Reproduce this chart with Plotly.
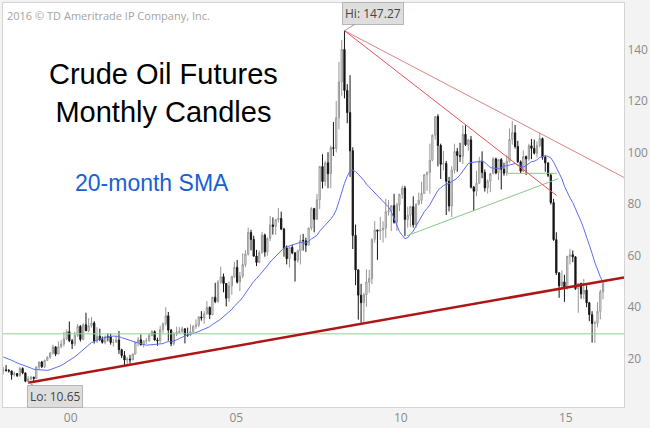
import plotly.graph_objects as go
import pandas as pd

# ---- Monthly crude oil futures OHLC, Mar 1998 .. May 2016 ----
start_month = "1998-03-01"

opens = [
    15.44, 15.61, 15.39, 15.20, 13.72, 14.17, 13.36, 16.14, 14.42, 11.22,
    12.05, 12.75, 12.27, 16.76, 18.66, 16.84, 19.29, 20.53, 22.10, 24.51, 21.75, 24.59,
    25.60, 27.64, 30.43, 26.90, 25.74, 29.01, 32.50, 27.43, 33.12, 30.84, 32.70, 33.82,
    26.80, 28.66, 27.39, 26.29, 28.46, 28.37, 26.25, 26.35, 27.20, 23.43, 21.18, 19.44,
    19.84, 19.48, 21.74, 26.31, 27.29, 25.31, 26.86, 27.02, 28.98, 30.45, 27.22, 26.89,
    31.20, 33.51, 36.60, 31.04, 25.80, 29.56, 30.19, 30.54, 31.57, 29.20, 29.11, 30.41,
    32.52, 33.05, 36.16, 35.76, 37.38, 39.88, 37.05, 43.80, 42.12, 49.64, 51.76, 49.13,
    43.45, 48.20, 51.75, 55.40, 49.72, 51.97, 56.50, 60.57, 68.94, 66.24, 59.76, 57.32,
    61.04, 67.92, 61.41, 66.63, 71.88, 71.29, 73.93, 74.40, 70.26, 62.91, 58.73, 63.13,
    61.05, 58.14, 61.79, 65.87, 65.71, 64.01, 70.68, 78.21, 74.04, 81.66, 94.53, 88.71,
    95.98, 91.75, 101.84, 101.58, 113.46, 127.35, 140.00, 124.08, 115.46, 100.64, 67.81, 54.43,
    44.60, 41.68, 44.76, 49.66, 51.12, 66.31, 69.89, 69.45, 69.96, 70.61, 77.00, 77.28,
    79.36, 72.89, 79.66, 83.76, 86.15, 73.97, 75.63, 78.95, 71.92, 79.97, 81.43, 84.11,
    91.38, 92.19, 96.97, 106.72, 113.93, 102.70, 95.42, 95.70, 88.81, 79.20, 93.19, 100.36,
    98.83, 98.48, 107.07, 103.02, 104.87, 86.53, 84.96, 88.06, 96.47, 92.19, 86.24, 88.91,
    91.82, 97.49, 92.05, 97.23, 93.46, 91.97, 96.56, 105.03, 107.65, 102.33, 96.38, 92.72,
    98.42, 97.49, 102.59, 101.58, 99.74, 102.71, 105.37, 98.17, 95.96, 91.16, 80.54, 66.15,
    53.27, 48.24, 49.76, 47.60, 59.63, 60.30, 59.47, 47.12, 49.20, 45.09, 46.59, 41.65,
    37.04, 33.62, 33.75, 38.34, 45.92,
]
highs = [
    16.80, 17.45, 15.95, 15.30, 14.92, 14.35, 16.75, 16.60, 14.55, 13.20,
    13.30, 13.00, 16.95, 18.80, 19.10, 19.60, 20.85, 22.60, 25.40, 24.85, 26.70, 27.15,
    30.25, 31.35, 34.37, 27.60, 30.40, 33.40, 33.00, 33.60, 37.80, 35.70, 36.20, 34.50,
    32.20, 31.60, 28.60, 29.00, 29.80, 29.60, 27.60, 28.90, 30.70, 23.80, 22.90, 20.50,
    21.40, 21.95, 26.40, 28.40, 29.30, 26.90, 27.95, 29.90, 31.00, 30.95, 28.10, 32.70,
    34.00, 39.99, 38.10, 31.50, 30.30, 32.40, 32.20, 32.40, 31.60, 32.00, 33.30, 33.00,
    35.20, 36.40, 38.40, 38.40, 42.30, 40.20, 43.90, 49.40, 50.50, 55.67, 53.00, 49.20,
    49.90, 52.10, 57.60, 58.28, 53.60, 60.90, 62.10, 70.85, 70.00, 67.70, 62.20, 61.90,
    69.20, 68.50, 67.00, 75.35, 74.80, 74.10, 78.40, 77.05, 70.70, 63.90, 63.40, 64.20,
    61.20, 62.30, 68.10, 68.40, 66.90, 70.70, 78.77, 78.50, 83.90, 94.74, 99.29, 96.80,
    100.09, 102.60, 111.80, 119.93, 135.09, 143.67, 147.27, 126.50, 130.00, 102.00, 72.00, 54.50,
    49.00, 45.50, 54.66, 54.45, 66.65, 73.38, 70.00, 75.00, 73.30, 82.00, 81.50, 79.50,
    83.95, 80.50, 83.50, 87.15, 87.00, 79.00, 79.30, 82.95, 80.10, 84.40, 88.60, 91.50,
    92.60, 103.41, 106.95, 113.98, 114.83, 103.40, 100.60, 96.70, 90.50, 94.65, 103.37, 101.77,
    103.74, 110.55, 110.50, 105.30, 106.40, 87.00, 92.94, 98.29, 100.42, 93.40, 89.60, 91.00,
    98.24, 98.00, 97.30, 97.80, 96.00, 99.10, 109.30, 112.24, 110.70, 104.50, 96.90, 100.80,
    98.80, 103.40, 105.20, 104.99, 104.30, 107.68, 105.80, 98.70, 96.00, 92.00, 82.00, 69.00,
    53.50, 54.24, 52.50, 59.90, 62.58, 61.94, 59.70, 49.30, 49.40, 50.92, 48.36, 42.00,
    38.39, 34.69, 41.90, 46.78, 49.90,
]
lows = [
    13.90, 14.90, 14.55, 11.80, 13.02, 12.85, 12.90, 13.90, 10.82, 10.65,
    11.55, 11.25, 11.95, 15.65, 16.35, 16.30, 19.10, 19.90, 21.50, 20.90, 21.65, 24.05,
    24.70, 27.20, 26.40, 23.70, 24.90, 28.30, 26.60, 27.10, 30.60, 30.20, 32.00, 25.80,
    26.00, 26.80, 25.80, 25.50, 26.70, 25.40, 24.60, 26.10, 21.80, 20.20, 17.45, 17.50,
    17.97, 19.40, 21.60, 24.70, 25.10, 24.30, 25.70, 26.40, 28.60, 26.95, 24.95, 26.10,
    30.00, 32.70, 26.90, 24.80, 25.08, 28.70, 29.60, 29.90, 25.90, 28.40, 28.70, 29.60,
    31.50, 32.20, 34.70, 33.50, 37.00, 35.30, 36.80, 41.50, 41.60, 49.10, 45.70, 40.25,
    41.90, 44.80, 51.30, 49.10, 46.20, 51.10, 55.50, 60.00, 62.00, 59.50, 55.88, 57.00,
    60.80, 59.52, 59.90, 65.60, 68.10, 68.00, 72.80, 69.90, 59.52, 56.55, 55.35, 60.50,
    49.90, 57.20, 56.50, 61.90, 61.40, 64.00, 69.80, 69.00, 73.90, 78.00, 86.00, 87.00,
    86.11, 86.10, 98.65, 100.00, 109.00, 122.00, 121.00, 111.34, 90.51, 62.50, 48.50, 35.10,
    33.90, 34.20, 40.05, 45.50, 48.90, 65.00, 58.32, 66.00, 65.05, 66.80, 75.50, 69.50,
    72.40, 69.50, 77.20, 82.00, 67.50, 70.80, 71.00, 70.80, 70.76, 79.50, 80.00, 84.00,
    85.10, 84.00, 96.50, 105.00, 94.60, 89.70, 93.00, 75.71, 77.10, 74.95, 91.80, 92.50,
    96.30, 95.50, 102.50, 100.70, 86.00, 77.28, 83.00, 87.80, 90.00, 84.80, 84.05, 84.60,
    91.70, 91.50, 89.33, 85.60, 91.00, 91.00, 96.00, 103.00, 101.50, 95.90, 92.00, 92.50,
    91.24, 96.70, 97.40, 99.20, 98.00, 101.90, 97.20, 92.50, 90.43, 79.78, 65.69, 52.44,
    43.58, 47.36, 42.03, 46.70, 56.51, 57.40, 46.68, 37.75, 43.21, 43.04, 39.93, 34.53,
    26.19, 26.05, 32.10, 35.24, 43.03,
]
closes = [
    15.61, 15.39, 15.20, 13.72, 14.17, 13.36, 16.14, 14.42, 11.22, 12.05,
    12.75, 12.27, 16.76, 18.66, 16.84, 19.29, 20.53, 22.10, 24.51, 21.75, 24.59, 25.60,
    27.64, 30.43, 26.90, 25.74, 29.01, 32.50, 27.43, 33.12, 30.84, 32.70, 33.82, 26.80,
    28.66, 27.39, 26.29, 28.46, 28.37, 26.25, 26.35, 27.20, 23.43, 21.18, 19.44, 19.84,
    19.48, 21.74, 26.31, 27.29, 25.31, 26.86, 27.02, 28.98, 30.45, 27.22, 26.89, 31.20,
    33.51, 36.60, 31.04, 25.80, 29.56, 30.19, 30.54, 31.57, 29.20, 29.11, 30.41, 32.52,
    33.05, 36.16, 35.76, 37.38, 39.88, 37.05, 43.80, 42.12, 49.64, 51.76, 49.13, 43.45,
    48.20, 51.75, 55.40, 49.72, 51.97, 56.50, 60.57, 68.94, 66.24, 59.76, 57.32, 61.04,
    67.92, 61.41, 66.63, 71.88, 71.29, 73.93, 74.40, 70.26, 62.91, 58.73, 63.13, 61.05,
    58.14, 61.79, 65.87, 65.71, 64.01, 70.68, 78.21, 74.04, 81.66, 94.53, 88.71, 95.98,
    91.75, 101.84, 101.58, 113.46, 127.35, 140.00, 124.08, 115.46, 100.64, 67.81, 54.43, 44.60,
    41.68, 44.76, 49.66, 51.12, 66.31, 69.89, 69.45, 69.96, 70.61, 77.00, 77.28, 79.36,
    72.89, 79.66, 83.76, 86.15, 73.97, 75.63, 78.95, 71.92, 79.97, 81.43, 84.11, 91.38,
    92.19, 96.97, 106.72, 113.93, 102.70, 95.42, 95.70, 88.81, 79.20, 93.19, 100.36, 98.83,
    98.48, 107.07, 103.02, 104.87, 86.53, 84.96, 88.06, 96.47, 92.19, 86.24, 88.91, 91.82,
    97.49, 92.05, 97.23, 93.46, 91.97, 96.56, 105.03, 107.65, 102.33, 96.38, 92.72, 98.42,
    97.49, 102.59, 101.58, 99.74, 102.71, 105.37, 98.17, 95.96, 91.16, 80.54, 66.15, 53.27,
    48.24, 49.76, 47.60, 59.63, 60.30, 59.47, 47.12, 49.20, 45.09, 46.59, 41.65, 37.04,
    33.62, 33.75, 38.34, 45.92, 49.10,
]
# closes Jun 1996 .. Feb 1998, only used to warm up the 20-month SMA
warmup_closes = [
    20.92, 20.42, 22.25, 24.38, 23.35, 23.75, 25.92,
    24.15, 20.30, 20.41, 20.21, 20.88, 19.80, 20.14, 19.61, 21.18, 21.08, 19.15, 17.64,
    17.21, 15.44,
]
sma_window = 20

# ---- annotation levels / trend lines ----
hi_date, hi_value = "2008-07-01", 147.27
lo_date, lo_value = "1998-12-01", 10.65
support_x = ["1998-12-01", "2016-12-19"]
support_y = [10.65, 51.5]
resist_upper_x = ["2008-07-01", "2016-12-19"]
resist_upper_y = [147.27, 90.3]
resist_lower_x = ["2008-07-01", "2014-12-04"]
resist_lower_y = [147.27, 83.3]
green_flat_x = ["1998-02-26", "2016-12-19"]
green_flat_y = [29.6, 29.6]
green_rise_x = ["2010-05-25", "2014-12-22"]
green_rise_y = [67.7, 89.8]
green_short_x = ["2013-06-13", "2014-12-07"]
green_short_y = [91.9, 91.9]

x_range = ["1998-02-26", "2016-12-19"]
y_range = [1.2, 158]
x_tickvals = ["2000-03-16", "2005-03-22", "2010-03-17", "2015-03-16"]
x_ticktext = ["00", "05", "10", "15"]
y_tickvals = [20, 40, 60, 80, 100, 120, 140]

dates = pd.date_range(start_month, periods=len(closes), freq="MS")
all_closes = pd.Series(warmup_closes + closes)
sma = all_closes.rolling(sma_window).mean().iloc[len(warmup_closes):].tolist()

fig = go.Figure()
fig.add_trace(go.Candlestick(
    x=dates, open=opens, high=highs, low=lows, close=closes,
    increasing=dict(line=dict(color="#969696", width=1), fillcolor="#ffffff"),
    decreasing=dict(line=dict(color="#151515", width=1), fillcolor="#151515"),
    whiskerwidth=0, showlegend=False, hoverinfo="skip",
))
fig.add_trace(go.Scatter(x=dates, y=sma, mode="lines",
                         line=dict(color="#5b6cf2", width=1), hoverinfo="skip"))

def add_line(xs, ys, color, width):
    fig.add_trace(go.Scatter(x=xs, y=ys, mode="lines",
                             line=dict(color=color, width=width), hoverinfo="skip"))

add_line(green_flat_x, green_flat_y, "#92cf92", 1)
add_line(green_rise_x, green_rise_y, "#86c886", 1)
add_line(green_short_x, green_short_y, "#86c886", 1)
add_line(resist_upper_x, resist_upper_y, "#d98585", 1)
add_line(resist_lower_x, resist_lower_y, "#e8505c", 1)
add_line(support_x, support_y, "#b01515", 2.5)

label_font = dict(family="Open Sans", size=12, color="#444444")
fig.add_annotation(x=hi_date, y=hi_value, text=f"Hi: {hi_value:.2f}",
                   showarrow=True, arrowhead=0, arrowwidth=1, arrowcolor="#9c9c9c",
                   ax=28.5, ay=-17.4, bgcolor="#dedede", bordercolor="#b5b5b5",
                   borderwidth=1, borderpad=2, font=label_font)
fig.add_annotation(x=lo_date, y=lo_value, text=f"Lo: {lo_value:.2f}",
                   showarrow=True, arrowhead=0, arrowwidth=1, arrowcolor="#9c9c9c",
                   ax=27, ay=13.5, bgcolor="#dedede", bordercolor="#b5b5b5",
                   borderwidth=1, borderpad=2, font=label_font)

fig.add_annotation(xref="paper", yref="paper", x=0.003, y=0.968, xanchor="left",
                   yanchor="middle", showarrow=False,
                   text="2016 © TD Ameritrade IP Company, Inc.",
                   font=dict(family="Open Sans", size=11, color="#a3a3a3"))
fig.add_annotation(xref="paper", yref="paper", x=0.2577, y=0.777, xanchor="center",
                   yanchor="middle", showarrow=False, align="center",
                   text="Crude Oil Futures<br>Monthly Candles",
                   font=dict(family="Liberation Sans", size=29, color="#000000"))
fig.add_annotation(xref="paper", yref="paper", x=0.240, y=0.554, xanchor="center",
                   yanchor="middle", showarrow=False, text="20-month SMA",
                   font=dict(family="Liberation Sans", size=23, color="#1a5fd4"))

axis_font = dict(family="Open Sans", size=12, color="#8a8a8a")
fig.update_layout(
    width=650, height=428,
    margin=dict(l=3, r=26, t=2, b=20),
    paper_bgcolor="#f3f3f3", plot_bgcolor="#ffffff",
    showlegend=False,
    xaxis=dict(type="date", range=x_range, rangeslider=dict(visible=False),
               showgrid=False, zeroline=False, showline=True, mirror=True,
               linecolor="#d4d4d4", linewidth=1, ticks="",
               tickvals=x_tickvals, ticktext=x_ticktext, tickfont=axis_font),
    yaxis=dict(side="right", range=y_range, tickvals=y_tickvals,
               showgrid=False, zeroline=False, showline=True, mirror=True,
               linecolor="#d4d4d4", linewidth=1, ticks="", tickfont=axis_font),
)
fig.write_html("out.html", config={"displayModeBar": False},
               post_script="document.body.style.margin='0';document.body.style.overflow='hidden';")
